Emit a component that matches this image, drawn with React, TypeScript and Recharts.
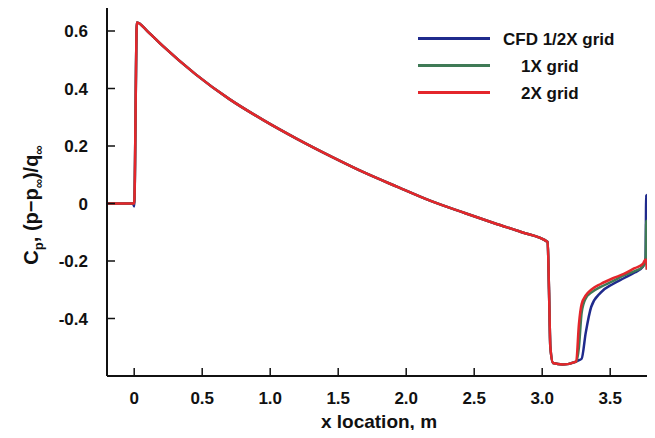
import { LineChart, Line, XAxis, YAxis } from "recharts";

const xs = [-0.2, -0.01, 0, 0.02, 0.1, 0.21, 0.45, 0.7, 0.95, 1.2, 1.45, 1.69, 1.94, 2.18, 2.43, 2.67, 2.85, 3.04, 3.05, 3.06, 3.08, 3.15, 3.25, 3.27, 3.29, 3.32, 3.36, 3.43, 3.52, 3.6, 3.68, 3.74, 3.76, 3.765, 3.77];
const cfdHalf = [0, 0, -0.01, 0.63, 0.598, 0.548, 0.45, 0.363, 0.29, 0.224, 0.163, 0.108, 0.057, 0.009, -0.033, -0.072, -0.1, -0.134, -0.3, -0.5, -0.555, -0.56, -0.55, -0.545, -0.54, -0.45, -0.36, -0.31, -0.28, -0.26, -0.24, -0.22, -0.19, 0.03, -0.2];
const grid1 = [0, 0, 0, 0.63, 0.598, 0.548, 0.45, 0.363, 0.29, 0.224, 0.163, 0.108, 0.057, 0.009, -0.033, -0.072, -0.1, -0.134, -0.3, -0.5, -0.555, -0.56, -0.55, -0.5, -0.38, -0.33, -0.31, -0.29, -0.27, -0.25, -0.235, -0.22, -0.2, -0.06, -0.23];
const grid2 = [0, 0, 0, 0.63, 0.598, 0.548, 0.45, 0.363, 0.29, 0.224, 0.163, 0.108, 0.057, 0.009, -0.033, -0.072, -0.1, -0.134, -0.3, -0.5, -0.555, -0.56, -0.55, -0.42, -0.35, -0.32, -0.3, -0.28, -0.26, -0.245, -0.225, -0.21, -0.195, -0.2, -0.23];
const xTicks = [0, 0.5, 1, 1.5, 2, 2.5, 3, 3.5];
const yTicks = [-0.4, -0.2, 0, 0.2, 0.4, 0.6];

const data = xs.map((x, i) => ({ x, a: cfdHalf[i], b: grid1[i], c: grid2[i] }));

const series = [
  { key: "a", name: "CFD 1/2X grid", color: "#1f2a8c", lx: 503 },
  { key: "b", name: "1X grid", color: "#3f7a56", lx: 521 },
  { key: "c", name: "2X grid", color: "#e4262b", lx: 521 },
];

const font = "'Liberation Sans', Arial, sans-serif";
const fmt = (v: number) => (v === 0 ? "0" : v.toFixed(1));

function BottomTick({ x, y, payload }: any) {
  return (
    <g>
      <line x1={x} x2={x} y1={y} y2={y - 8} stroke="#111" strokeWidth={1.5} />
      <text x={x} y={y + 28} textAnchor="middle" fontSize={17} fontWeight="bold" fontFamily={font} fill="#111">
        {fmt(payload.value)}
      </text>
    </g>
  );
}

function LeftTick({ x, y, payload }: any) {
  return (
    <g>
      <line x1={x} x2={x + 8} y1={y} y2={y} stroke="#111" strokeWidth={1.5} />
      <text x={x - 19} y={y + 6} textAnchor="end" fontSize={17} fontWeight="bold" fontFamily={font} fill="#111">
        {fmt(payload.value)}
      </text>
    </g>
  );
}

function TopTick({ x, y }: any) {
  return <line x1={x} x2={x} y1={y} y2={y + 7} stroke="#111" strokeWidth={1.5} />;
}

function RightTick({ x, y }: any) {
  return <line x1={x} x2={x - 4} y1={y} y2={y} stroke="#111" strokeWidth={1.5} />;
}

function LegendBox() {
  return (
    <svg width={240} height={90} style={{ position: "absolute", left: 418, top: 28 }}>
      {series.map((s, i) => (
        <g key={s.key}>
          <line x1={0} x2={72} y1={10.5 + i * 27} y2={10.5 + i * 27} stroke={s.color} strokeWidth={3} />
          <text x={s.lx - 418} y={16.5 + i * 27} fontSize={17} fontWeight="bold" fontFamily={font} fill="#111">
            {s.name}
          </text>
        </g>
      ))}
    </svg>
  );
}

function YLabel() {
  return (
    <text transform="translate(38,205) rotate(-90)" textAnchor="middle" fontSize={20} fontWeight="bold" fontFamily={font} fill="#111">
      C<tspan fontSize={13} dy={5}>p</tspan>
      <tspan dy={-5}>, (p−p</tspan>
      <tspan fontSize={13} dy={5}>∞</tspan>
      <tspan dy={-5}>)/q</tspan>
      <tspan fontSize={13} dy={5}>∞</tspan>
    </text>
  );
}

export default function App() {
  return (
    <div style={{ margin: -8, position: "relative", width: 655, height: 438 }}>
      <LineChart width={655} height={438} data={data} margin={{ top: 8, right: 3, bottom: 0, left: 0 }}>
        <XAxis dataKey="x" type="number" domain={[-0.2, 3.8]} ticks={xTicks} tick={<BottomTick />} tickLine={false}
          tickSize={0} tickMargin={0} height={62} stroke="#111" strokeWidth={2}
          label={{ value: "x location, m", position: "insideBottom", offset: 10, style: { fontSize: 19, fontWeight: "bold", fill: "#111", fontFamily: font } }} />
        <XAxis xAxisId="top" orientation="top" dataKey="x" type="number" domain={[-0.2, 3.8]} ticks={xTicks} tick={<TopTick />}
          tickLine={false} tickSize={0} tickMargin={0} height={0} axisLine={false} />
        <YAxis type="number" domain={[-0.6, 0.68]} ticks={yTicks} allowDataOverflow tick={<LeftTick />} tickLine={false}
          tickSize={0} tickMargin={0} width={107} stroke="#111" strokeWidth={2} label={<YLabel />} />
        <YAxis yAxisId="r" orientation="right" type="number" domain={[-0.6, 0.68]} ticks={yTicks} tick={<RightTick />}
          tickLine={false} tickSize={0} tickMargin={0} width={1} axisLine={false} />
        {series.map((s) => (
          <Line key={s.key} dataKey={s.key} name={s.name} stroke={s.color} strokeWidth={2.5} dot={false} type="monotone" isAnimationActive={false} />
        ))}
      </LineChart>
      <LegendBox />
    </div>
  );
}
